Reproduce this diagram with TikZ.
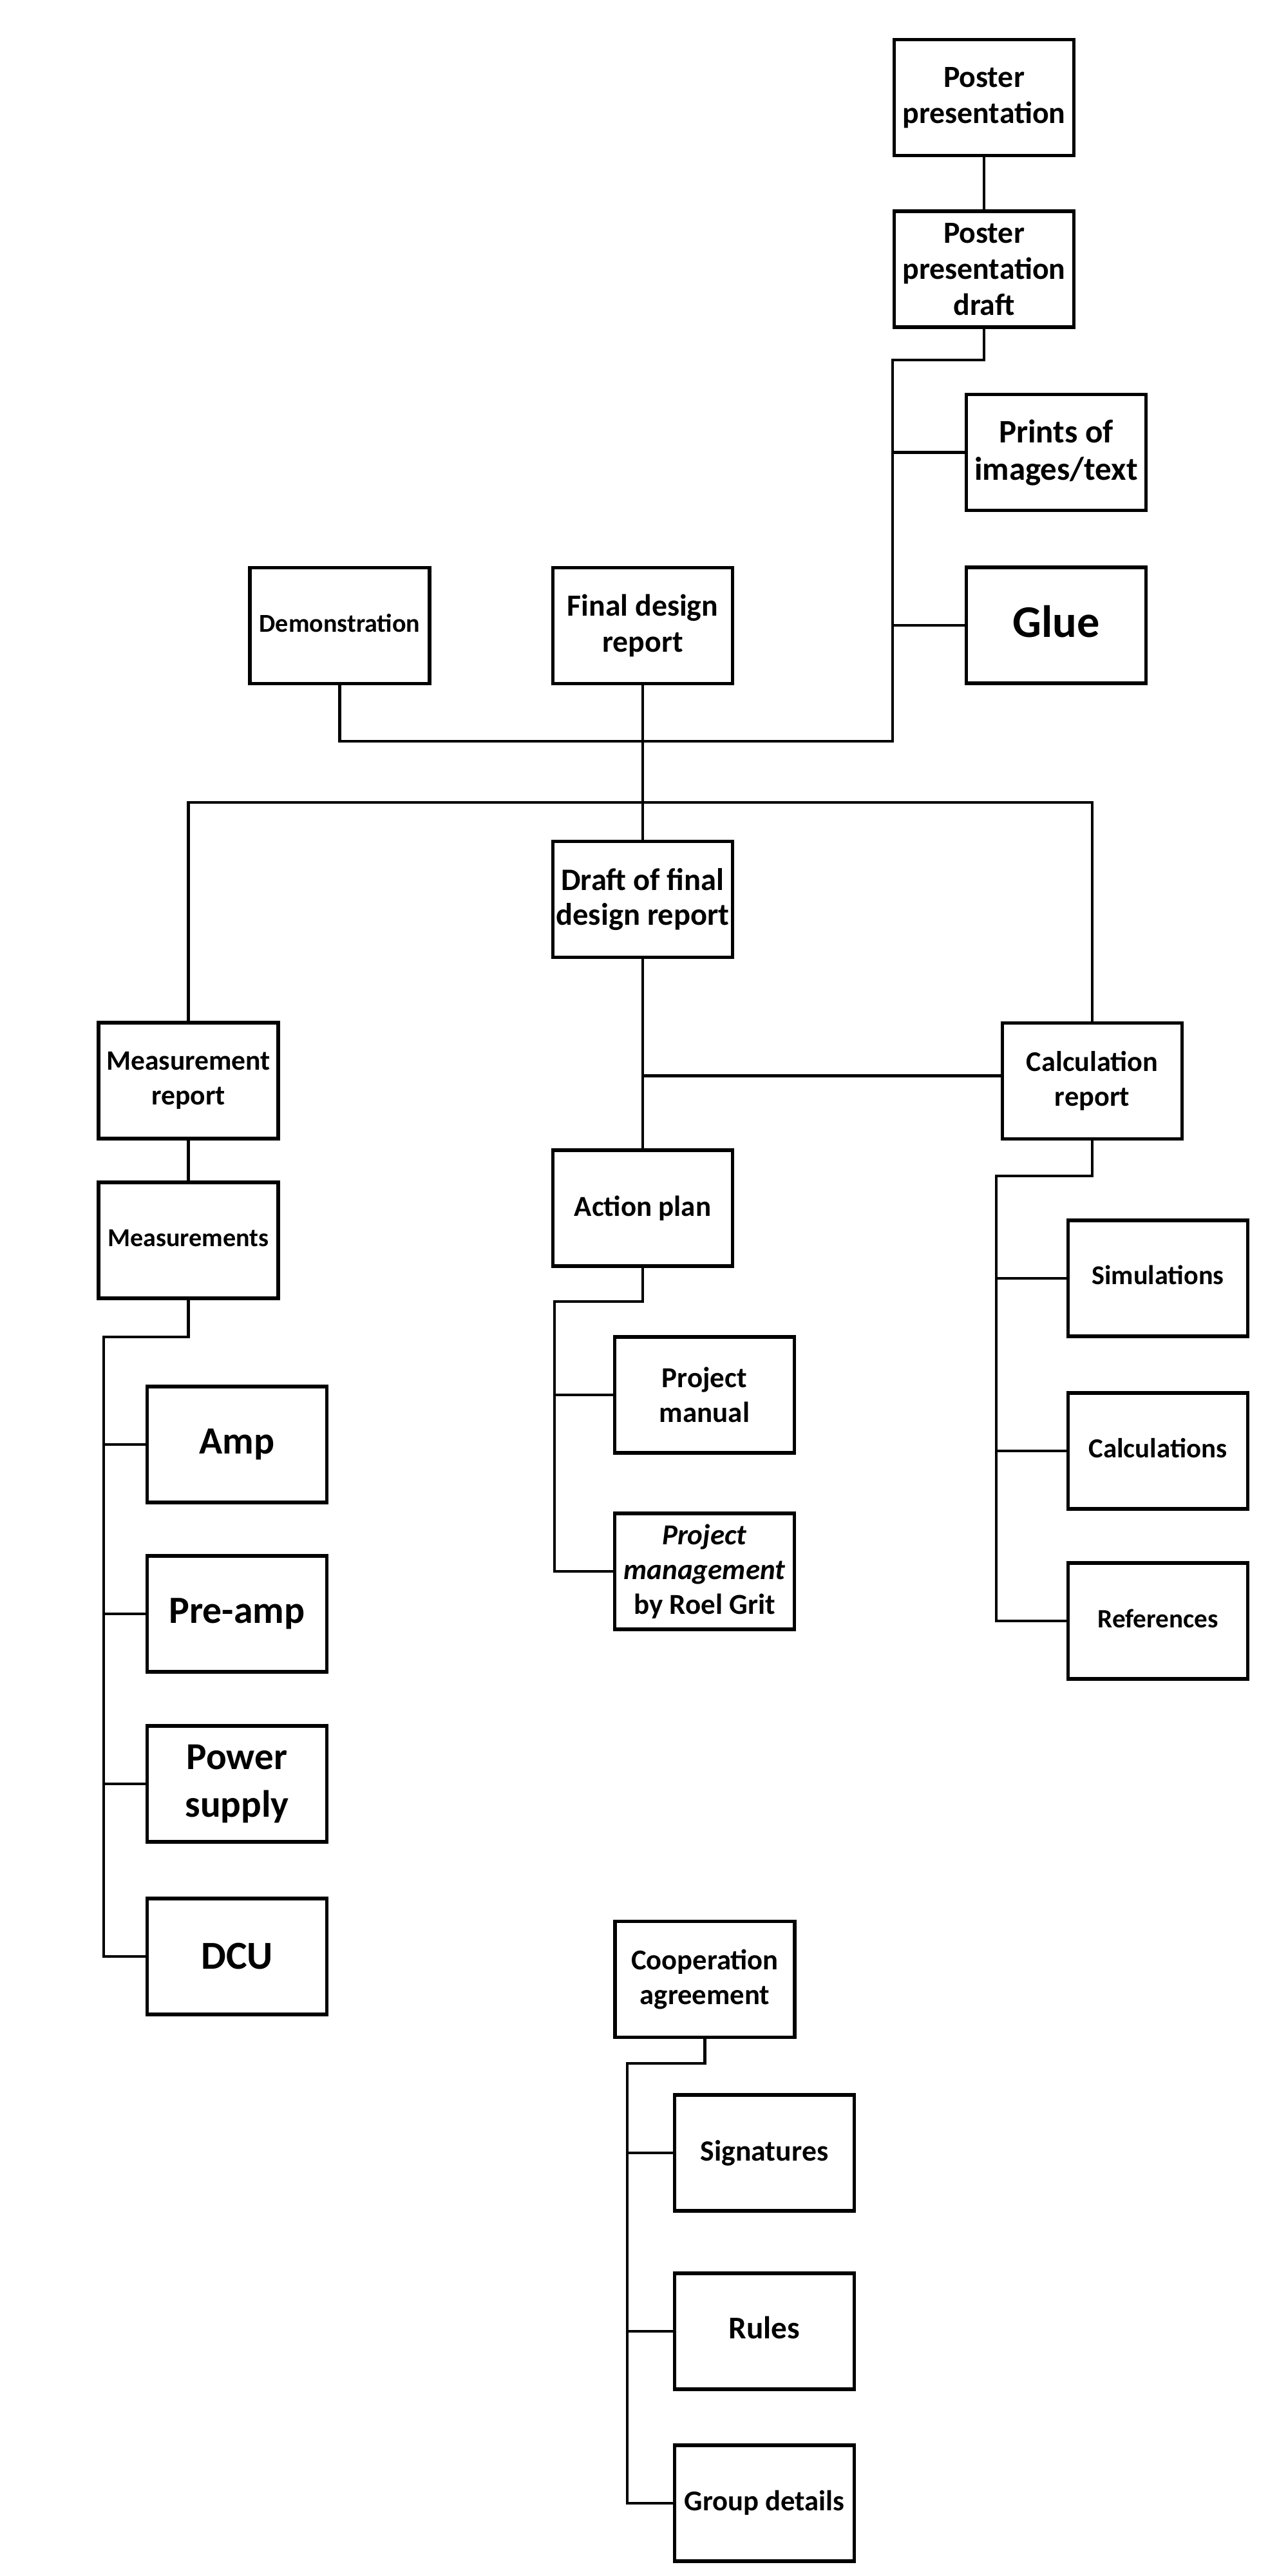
\documentclass[tikz,border=0pt]{standalone}
\usepackage{fontspec}
\setmainfont{Carlito}
\usetikzlibrary{calc}
\newcommand\rb[2]{\raisebox{#1cm}{#2}}
\begin{document}
\begin{tikzpicture}[x=1cm,y=1cm,
  box/.style={draw, line width=0.052cm, minimum width=2.79cm, minimum height=1.80cm, inner sep=0pt, align=center},
  fs/.style n args={2}{font=\fontsize{#1}{#2}\selectfont\bfseries},
  conn/.style={line width=0.042cm}]
\useasboundingbox (0,0) rectangle (20,-40);
\fill[white] (0,0) rectangle (20,-40);

\node[box,fs={13.6}{16}] (poster) at (15.28,-1.515) {Poster\\presentation};
\node[box,fs={13.6}{16}] (pdraft) at (15.28,-4.18) {Poster\\presentation\\draft};
\node[box,fs={14.5}{16.5}] (prints) at (16.40,-7.025) {Prints of\\images/text};
\node[box,fs={20}{24}] (glue) at (16.40,-9.71) {\rb{0.12}{Glue}};
\node[box,fs={11.4}{14}] (demo) at (5.275,-9.715) {\rb{0.08}{Demonstration}};
\node[box,fs={13.6}{16}] (final) at (9.98,-9.715) {Final design\\report};
\node[box,fs={13.8}{15.5}] (draft) at (9.98,-13.965) {Draft of final\\design report};
\node[box,fs={12.4}{15.3}] (mrep) at (2.925,-16.78) {Measurement\\report};
\node[box,fs={11.4}{14}] (meas) at (2.925,-19.26) {\rb{0.08}{Measurements}};
\node[box,fs={12.8}{15}] (action) at (9.98,-18.76) {\rb{0.03}{Action plan}};
\node[box,fs={12.6}{15.3}] (crep) at (16.96,-16.785) {Calculation\\report};
\node[box,fs={12}{14}] (sim) at (17.98,-19.85) {\rb{0.1}{Simulations}};
\node[box,fs={12.2}{14}] (calc) at (17.98,-22.53) {\rb{0.1}{Calculations}};
\node[box,fs={11.7}{14}] (refs) at (17.98,-25.17) {\rb{0.08}{References}};
\node[box,fs={12.8}{15.3}] (pman) at (10.94,-21.66) {Project\\manual};
\node[box,fs={12.8}{15.3}] (pmgmt) at (10.94,-24.40) {\textit{Project}\\\textit{management}\\by Roel Grit};
\node[box,fs={17}{21}] (amp) at (3.68,-22.43) {\rb{-0.07}{Amp}};
\node[box,fs={17}{21}] (preamp) at (3.68,-25.06) {\rb{-0.07}{Pre-amp}};
\node[box,fs={16.8}{21}] (power) at (3.68,-27.70) {Power\\supply};
\node[box,fs={17.5}{21}] (dcu) at (3.68,-30.38) {DCU};
\node[box,fs={12.7}{15.3}] (coop) at (10.945,-30.735) {Cooperation\\agreement};
\node[box,fs={13}{15}] (sig) at (11.87,-33.43) {\rb{0.08}{Signatures}};
\node[box,fs={14}{16}] (rules) at (11.87,-36.20) {\rb{0.12}{Rules}};
\node[box,fs={12.7}{15}] (group) at (11.87,-38.87) {\rb{0.08}{Group details}};

% top part
\draw[conn] (poster) -- (pdraft);
\coordinate (tj) at (13.86,-5.59);
\coordinate (tb) at (13.86,-11.51);
\draw[conn] (pdraft.south) |- (tj) -- (tb) -| (demo.south);
\draw[conn] (tj |- prints.west) -- (prints.west);
\draw[conn] (tj |- glue.west) -- (glue.west);
\draw[conn] (final) -- (draft);
\coordinate (hb) at (9.98,-12.46);
\draw[conn] (mrep.north) |- (hb) -| (crep.north);
\draw[conn] (draft) -- (action);
\coordinate (cj) at (9.98,-16.705);
\draw[conn] (cj) -- (cj -| crep.west);

% measurement branch
\draw[conn] (mrep) -- (meas);
\coordinate (ms) at (1.61,-20.76);
\draw[conn] (meas.south) |- (ms) |- (dcu.west);
\foreach \n in {amp,preamp,power} \draw[conn] (ms |- \n.west) -- (\n.west);

% action plan branch
\coordinate (as) at (8.61,-20.21);
\draw[conn] (action.south) |- (as) |- (pmgmt.west);
\draw[conn] (as |- pman.west) -- (pman.west);

% calculation branch
\coordinate (cs) at (15.47,-18.26);
\draw[conn] (crep.south) |- (cs) |- (refs.west);
\foreach \n in {sim,calc} \draw[conn] (cs |- \n.west) -- (\n.west);

% cooperation branch
\coordinate (ks) at (9.74,-32.04);
\draw[conn] (coop.south) |- (ks) |- (group.west);
\foreach \n in {sig,rules} \draw[conn] (ks |- \n.west) -- (\n.west);
\end{tikzpicture}
\end{document}
